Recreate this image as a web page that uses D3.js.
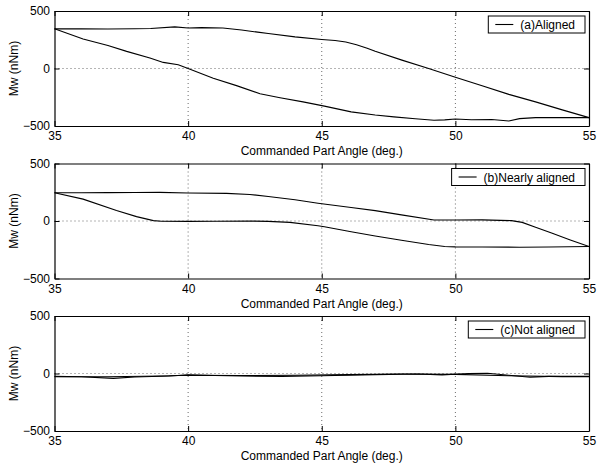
<!DOCTYPE html>
<html>
<head>
<meta charset="utf-8">
<script src="https://cdn.jsdelivr.net/npm/d3@7.9.0/dist/d3.min.js"></script>
<style>
  body { margin: 0; background: #fff; }
  svg { display: block; font-family: "Liberation Sans", Arial, Helvetica, sans-serif; }
</style>
</head>
<body>
<svg id="chart" width="597" height="465"></svg>
<script>
// tick labels
const xTicks = [35, 40, 45, 50, 55];
const yTicks = [-500, 0, 500];
const legendLabels = ["(a)Aligned", "(b)Nearly aligned", "(c)Not aligned"];

// (a) aligned - loop branches (angle in deg., moment in nNm)
const aUpperX = [35, 36, 37, 38, 38.6, 39.5, 40, 40.5, 41.3, 42, 42.6, 43, 44, 45, 45.5, 45.9, 46.3, 46.7, 47, 48, 49, 50, 51, 52, 53, 54, 55];
const aUpperY = [345, 345, 343, 345, 348, 362, 352, 355, 352, 335, 316, 305, 275, 252, 243, 230, 207, 177, 150, 73, 0, -76, -150, -225, -290, -360, -427];
const aLowerX = [35, 36.07, 37, 37.7, 38.57, 39.07, 39.63, 40, 40.94, 41.81, 42.69, 43.44, 44.3, 45.1, 46.1, 47, 47.7, 48.5, 49.2, 49.6, 50, 50.6, 51.36, 52, 52.4, 53, 54, 55];
const aLowerY = [345, 257, 200, 149, 91, 53, 32, 0, -85, -149, -219, -254, -290, -327, -377, -405, -421, -437, -450, -447, -439, -446, -444, -456, -436, -427, -427, -427];

// (b) nearly aligned
const bUpperX = [35, 36, 37, 38, 38.94, 40, 41.44, 42.31, 43, 44, 44.86, 46.1, 47, 47.98, 49.2, 50, 51, 52.1, 52.5, 53, 53.6, 54.3, 55];
const bUpperY = [246, 246, 247, 248, 249, 243, 240, 231, 213, 185, 155, 117, 90, 53, 9, 9, 10, 3, -12, -55, -105, -165, -222];
const bLowerX = [35, 36.07, 37.32, 38.07, 38.7, 39, 40, 41, 42.31, 43, 43.81, 44.86, 45.1, 46.1, 47, 47.98, 49, 49.6, 50, 51, 52.4, 53.5, 55];
const bLowerY = [246, 190, 91, 38, 3, -2, -3, -2, 0, -3, -12, -41, -50, -94, -130, -167, -205, -222, -225, -226, -228, -226, -222];

// (c) not aligned
const cUpperX = [35, 37, 39, 40, 42, 44, 46, 48, 50, 52, 54, 55];
const cUpperY = [-28, -28, -22, -15, -18, -15, -10, -5, -8, -20, -27, -28];
const cLowerX = [35, 36, 37.2, 38, 39.3, 39.6, 40, 41, 42, 43.5, 45, 47, 48.6, 49.5, 50.5, 51.2, 52, 52.8, 53.5, 55];
const cLowerY = [-25, -28, -42, -30, -22, -18, -12, -18, -22, -25, -20, -10, -5, -12, 0, 2, -15, -32, -25, -25];

const panels = [
  { top: 11, label: legendLabels[0], lines: [[aUpperX, aUpperY], [aLowerX, aLowerY]] },
  { top: 163.5, label: legendLabels[1], lines: [[bUpperX, bUpperY], [bLowerX, bLowerY]] },
  { top: 316, label: legendLabels[2], lines: [[cUpperX, cUpperY], [cLowerX, cLowerY]] }
];

const left = 54.5, right = 589, ph = 115;
const svg = d3.select("#chart");

const x = d3.scaleLinear().domain([35, 55]).range([left, right]);

panels.forEach(p => {
  const y = d3.scaleLinear().domain([-500, 500]).range([p.top + ph, p.top]);
  const g = svg.append("g");

  // dotted grid
  g.selectAll(".gx").data(xTicks.slice(1, -1)).join("line")
    .attr("x1", d => x(d)).attr("x2", d => x(d))
    .attr("y1", p.top).attr("y2", p.top + ph)
    .attr("stroke", "#444").attr("stroke-width", 0.8).attr("stroke-dasharray", "1,3");
  g.selectAll(".gy").data([0]).join("line")
    .attr("x1", left).attr("x2", right)
    .attr("y1", d => y(d)).attr("y2", d => y(d))
    .attr("stroke", "#444").attr("stroke-width", 0.8).attr("stroke-dasharray", "1,3");

  // curves
  const line = d3.line().x(d => x(d[0])).y(d => y(d[1]));
  p.lines.forEach(([xs, ys]) => {
    g.append("path")
      .datum(xs.map((v, i) => [v, ys[i]]))
      .attr("d", line)
      .attr("fill", "none").attr("stroke", "#000").attr("stroke-width", 1.1);
  });

  // axes, ticks pointing inside
  g.append("g").attr("transform", `translate(0,${p.top + ph})`)
    .call(d3.axisBottom(x).tickValues(xTicks).tickSize(-5).tickSizeOuter(0).tickPadding(5.5));
  g.append("g").attr("transform", `translate(0,${p.top})`)
    .call(d3.axisTop(x).tickValues(xTicks).tickSize(-5).tickSizeOuter(0).tickFormat(""));
  g.append("g").attr("transform", `translate(${left},0)`)
    .call(d3.axisLeft(y).tickValues(yTicks).tickSize(-5).tickSizeOuter(0).tickPadding(4.5));
  g.append("g").attr("transform", `translate(${right},0)`)
    .call(d3.axisRight(y).tickValues(yTicks).tickSize(-5).tickSizeOuter(0).tickFormat(""));
  g.selectAll(".tick text").attr("font-size", 12).attr("font-family", "Liberation Sans, Arial, sans-serif").attr("fill", "#000");
  g.selectAll(".domain").attr("stroke", "#000").attr("stroke-width", 1.2);

  // axis titles
  g.append("text")
    .attr("x", (left + right) / 2).attr("y", p.top + ph + 29)
    .attr("text-anchor", "middle").attr("font-size", 12)
    .text("Commanded Part Angle (deg.)");
  g.append("text")
    .attr("transform", `translate(18,${p.top + ph / 2}) rotate(-90)`)
    .attr("text-anchor", "middle").attr("font-size", 12)
    .text("Mw (nNm)");

  // legend
  const lg = g.append("g");
  const txt = lg.append("text").attr("font-size", 12).text(p.label);
  const tw = txt.node().getComputedTextLength();
  const bw = tw + 42, bx = 585 - bw, by = p.top + 5;
  lg.insert("rect", "text")
    .attr("x", bx).attr("y", by).attr("width", bw).attr("height", 17)
    .attr("fill", "#fff").attr("stroke", "#000").attr("stroke-width", 1);
  lg.append("line")
    .attr("x1", bx + 7).attr("x2", bx + 25).attr("y1", by + 8.5).attr("y2", by + 8.5)
    .attr("stroke", "#000").attr("stroke-width", 1.1);
  txt.attr("x", bx + 32).attr("y", by + 13);
});
</script>
</body>
</html>
